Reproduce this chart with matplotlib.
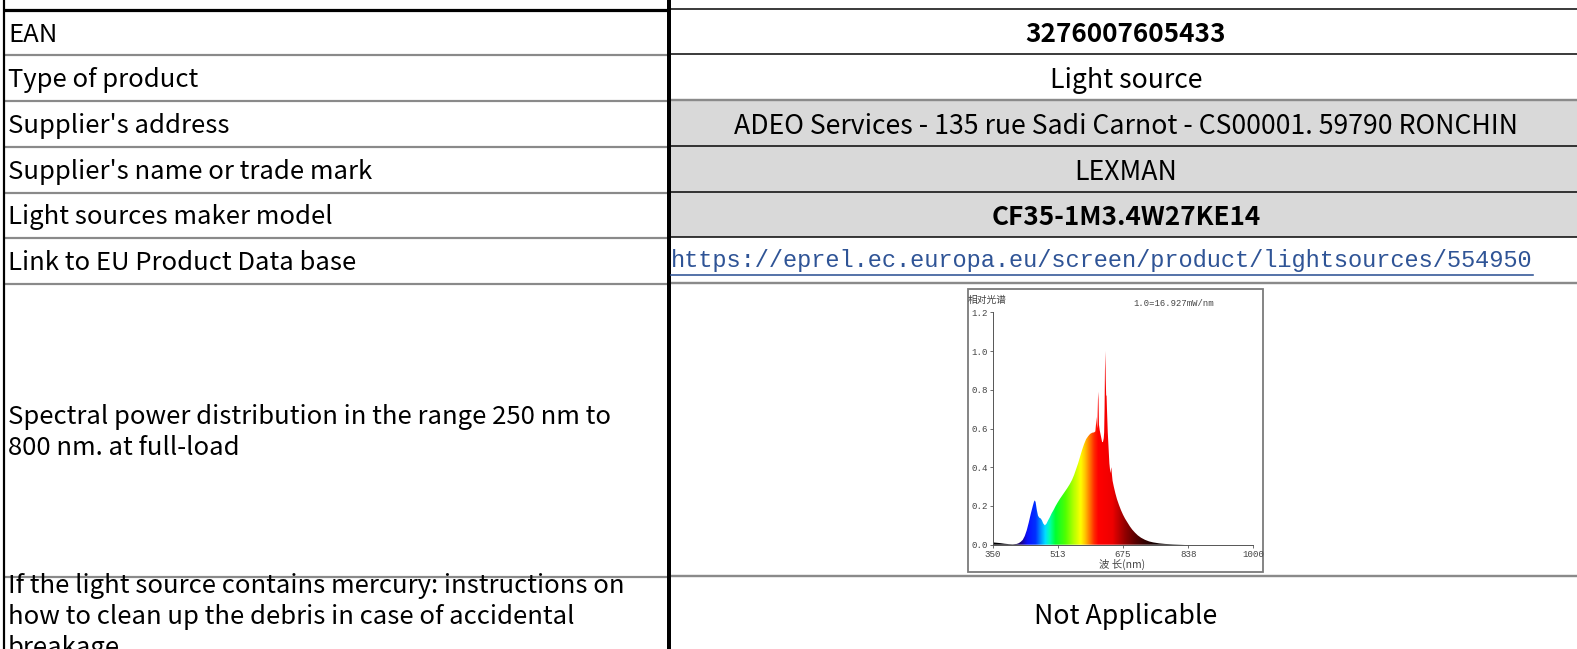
import numpy as np
import matplotlib
matplotlib.use("Agg")
import matplotlib.pyplot as plt
from matplotlib.colors import LinearSegmentedColormap, Normalize
from matplotlib.patches import Rectangle

# ---------------- data ----------------
row_labels = [
    "EAN",
    "Type of product",
    "Supplier's address",
    "Supplier's name or trade mark",
    "Light sources maker model",
    "Link to EU Product Data base",
    "Spectral power distribution in the range 250 nm to\n800 nm. at full-load",
    "If the light source contains mercury: instructions on\nhow to clean up the debris in case of accidental\nbreakage",
]
row_values = [
    "3276007605433",
    "Light source",
    "ADEO Services - 135 rue Sadi Carnot - CS00001. 59790 RONCHIN",
    "LEXMAN",
    "CF35-1M3.4W27KE14",
    "https://eprel.ec.europa.eu/screen/product/lightsources/554950",
    "",
    "Not Applicable",
]
value_bold = [True, False, False, False, True, False, False, False]
value_shaded = [False, False, True, True, True, False, False, False]
value_link = [False, False, False, False, False, True, False, False]

wavelength_nm = [350, 360, 370, 380, 390, 400, 410, 415, 420, 425, 430, 435, 440, 445,
                 450, 453, 455, 457, 460, 463, 466, 470, 473, 476, 480, 484, 488, 492,
                 497, 502, 507, 512, 518, 524, 530, 536, 542, 548, 553, 558, 563, 568,
                 573, 578, 583, 588, 593, 598, 603, 606, 608, 609, 610, 611, 612, 613,
                 614, 615, 617, 620, 623, 625, 627, 628, 629, 630, 631, 632, 633, 634,
                 635, 637, 639, 641, 642, 643, 644, 645, 646, 647, 649, 652, 656, 660,
                 665, 670, 675, 680, 686, 692, 698, 705, 712, 720, 730, 740, 750, 765,
                 780, 800, 830, 1000]
relative_power = [0.012, 0.010, 0.008, 0.005, 0.003, 0.002, 0.004, 0.008, 0.015, 0.025,
                  0.045, 0.075, 0.115, 0.160, 0.200, 0.222, 0.229, 0.220, 0.180, 0.150,
                  0.140, 0.135, 0.125, 0.110, 0.100, 0.108, 0.125, 0.140, 0.162, 0.180,
                  0.200, 0.218, 0.238, 0.256, 0.274, 0.292, 0.312, 0.335, 0.360, 0.390,
                  0.420, 0.455, 0.490, 0.520, 0.545, 0.560, 0.572, 0.578, 0.580, 0.585,
                  0.630, 0.660, 0.620, 0.600, 0.700, 0.790, 0.750, 0.620, 0.590, 0.560,
                  0.530, 0.530, 0.550, 0.580, 0.700, 0.900, 1.000, 0.850, 0.770, 0.770,
                  0.700, 0.580, 0.500, 0.420, 0.400, 0.380, 0.370, 0.390, 0.400, 0.370,
                  0.330, 0.300, 0.265, 0.235, 0.205, 0.178, 0.155, 0.135, 0.115, 0.095,
                  0.078, 0.062, 0.048, 0.036, 0.025, 0.017, 0.012, 0.007, 0.004, 0.002,
                  0.000, 0.000]
x_ticks = [350, 513, 675, 838, 1000]
y_ticks = [0.0, 0.2, 0.4, 0.6, 0.8, 1.0, 1.2]
chart_ylabel = "相对光谱"
chart_note = "1.0=16.927mW/nm"
chart_xlabel = "波 长(nm)"

# ---------------- layout ----------------
W, H = 1577, 649
row_edges = [9, 54, 100, 146, 192, 237, 283, 576, 652]
x_left, x_div, x_right = 3.5, 668.7, W
PX = 0.72  # points per pixel at dpi 100
FONT = ["Noto Sans CJK SC", "DejaVu Sans"]
FS_L = 18.5
FS_R = 19.2

fig = plt.figure(figsize=(W / 100, H / 100), dpi=100)
ax = fig.add_axes([0, 0, 1, 1])
ax.set_xlim(0, W)
ax.set_ylim(H, 0)
ax.axis("off")

# shaded cells
for i, sh in enumerate(value_shaded):
    if sh:
        ax.add_patch(Rectangle((x_div, row_edges[i]), x_right - x_div,
                               row_edges[i + 1] - row_edges[i],
                               facecolor="#d9d9d9", edgecolor="none", zorder=0))

# horizontal lines
gray = "#8a8a8a"
for j, y in enumerate(row_edges[:-1]):
    if j == 0:
        ax.plot([x_left, x_div], [y + 1, y + 1], color="black", lw=3.2 * PX,
                solid_capstyle="butt", zorder=2)
        ax.plot([x_div, x_right], [y - 0.5, y - 0.5], color="black", lw=1.5 * PX,
                solid_capstyle="butt", zorder=2)
        continue
    ax.plot([x_left, x_div], [y + 0.5, y + 0.5], color=gray, lw=2.2 * PX,
            solid_capstyle="butt", zorder=2)
    if j in (2, 6, 7):
        ax.plot([x_div, x_right], [y, y], color=gray, lw=2.4 * PX,
                solid_capstyle="butt", zorder=2)
    else:
        ax.plot([x_div, x_right], [y, y], color="black", lw=1.5 * PX,
                solid_capstyle="butt", zorder=2)

# vertical lines
ax.plot([x_left, x_left], [0, H], color="black", lw=2.2 * PX, zorder=3)
ax.plot([x_div, x_div], [0, H], color="black", lw=4.0 * PX, zorder=3)

# texts
fig.canvas.draw()
renderer = fig.canvas.get_renderer()
DY = 3.0
for i, lab in enumerate(row_labels):
    y0, y1 = row_edges[i], row_edges[i + 1]
    yc = (y0 + y1) / 2
    t = ax.text(8, yc + DY, lab, ha="left", va="center", fontsize=FS_L, family=FONT,
                color="black", linespacing=1.26, zorder=4)
    clip = Rectangle((x_left, y0 + 1.5), x_div - x_left, y1 - y0,
                     transform=ax.transData, facecolor="none", edgecolor="none")
    t.set_clip_path(clip)

    val = row_values[i]
    if not val:
        continue
    if value_link[i]:
        tv = ax.text(671, yc + 1, val, ha="left", va="center", fontsize=17.0,
                     family=["Liberation Mono"], color="#2f5496", zorder=4)
        fig.canvas.draw()
        bb = tv.get_window_extent(renderer).transformed(ax.transData.inverted())
        ax.plot([bb.x0, bb.x1], [yc + 14.5, yc + 14.5], color="#2f5496",
                lw=1.6 * PX, zorder=4)
    else:
        ax.text((x_div + x_right) / 2 + 3, yc + DY, val, ha="center", va="center",
                fontsize=18.8 if value_bold[i] else FS_R, family=FONT, color="black",
                fontweight="bold" if value_bold[i] else "normal", zorder=4)

# ---------------- spectrum inset ----------------
frame = Rectangle((968, 289), 1263 - 968, 572 - 289, facecolor="white",
                  edgecolor="#7a7a7a", lw=1.8 * PX, zorder=5)
ax.add_patch(frame)

ax_l, ax_r, ax_t, ax_b = 992.7, 1253.3, 312.3, 544.7
sax = fig.add_axes([ax_l / W, 1 - ax_b / H, (ax_r - ax_l) / W, (ax_b - ax_t) / H])
sax.set_zorder(6)
sax.patch.set_alpha(0)
sax.set_xlim(350, 1000)
sax.set_ylim(0, 1.2)

stops = [(350, "#000000"), (400, "#050010"), (418, "#1a0080"), (435, "#0a10ff"),
         (455, "#0030ff"), (468, "#0090ff"), (480, "#00e0ff"), (490, "#00ffb0"),
         (505, "#00ff30"), (530, "#50ff00"), (550, "#b0ff00"), (568, "#ffff00"),
         (580, "#ffc000"), (590, "#ff7a00"), (602, "#ff2800"), (612, "#ff0000"),
         (648, "#ee0000"), (663, "#c00000"), (680, "#900000"), (705, "#5a0000"),
         (730, "#300000"), (755, "#120000"), (800, "#000000"), (1000, "#000000")]
cmap = LinearSegmentedColormap.from_list(
    "spec", [((w - 350) / 650, c) for w, c in stops])
poly = sax.fill_between(wavelength_nm, relative_power, 0, color="none", lw=0)
grad = np.linspace(350, 1000, 1300)[None, :]
im = sax.imshow(grad, extent=[350, 1000, 0, 1.2], aspect="auto", origin="lower",
                cmap=cmap, norm=Normalize(350, 1000), interpolation="bilinear")
im.set_clip_path(poly.get_paths()[0], transform=sax.transData)

for s in ("top", "right"):
    sax.spines[s].set_visible(False)
for s in ("left", "bottom"):
    sax.spines[s].set_color("#555555")
    sax.spines[s].set_linewidth(0.7)
sax.set_xticks(x_ticks)
sax.set_xticklabels([str(v) for v in x_ticks])
sax.set_yticks(y_ticks)
sax.set_yticklabels([f"{v:.1f}" for v in y_ticks])
sax.tick_params(axis="both", length=2.5, width=0.6, color="#555555",
                labelsize=6.6, labelcolor="#444444", pad=1)
for lbl in sax.get_xticklabels() + sax.get_yticklabels():
    lbl.set_family("Liberation Mono")

ax.text(987.5, 300, chart_ylabel, ha="center", va="center", fontsize=7,
        family=FONT, color="#444444", zorder=7)
ax.text(1174, 304, chart_note, ha="center", va="center", fontsize=6.4,
        family=["Liberation Mono"], color="#444444", zorder=7)
ax.text(1122, 564, chart_xlabel, ha="center", va="center", fontsize=7.5,
        family=FONT, color="#444444", zorder=7)

fig.savefig("out.png", dpi=100)
